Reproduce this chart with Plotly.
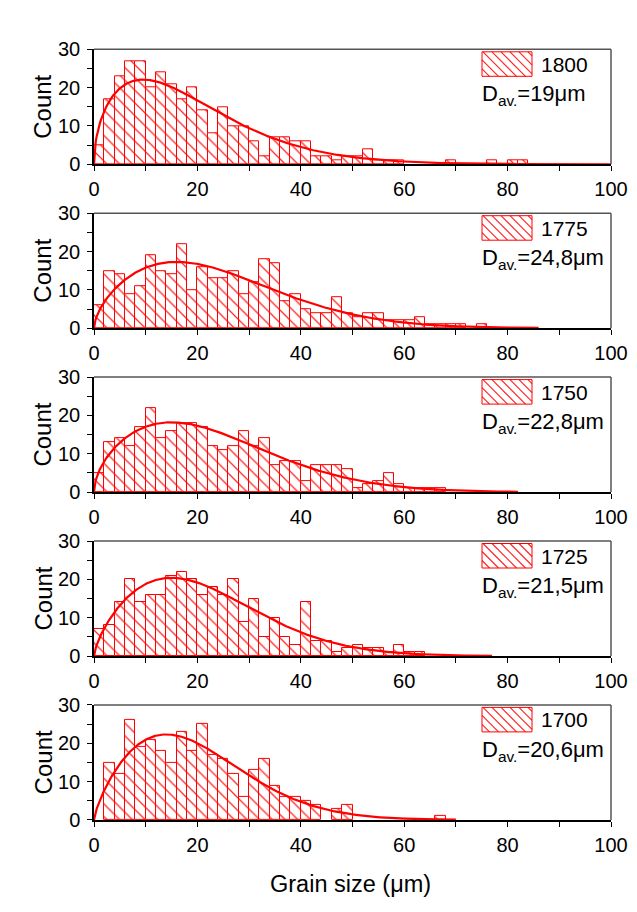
import numpy as np
import plotly.graph_objects as go

# ---------------- data ----------------
bin_width = 2.0
temps = ["1800", "1775", "1750", "1725", "1700"]
d_avg = ["19", "24,8", "22,8", "21,5", "20,6"]

counts_1800 = [5, 17, 23, 27, 27, 20, 24, 21, 17, 20, 14, 8, 15, 10, 10, 6, 2, 7, 7, 6, 6,
               2, 2, 1, 2, 2, 4, 1, 1, 1, 0, 0, 0, 0, 1, 0, 0, 0, 1, 0, 1, 1]
counts_1775 = [6, 15, 14, 9, 11, 19, 15, 14, 22, 10, 16, 13, 13, 15, 9, 12, 18, 17, 7, 9, 5,
               4, 4, 8, 4, 3, 4, 4, 2, 2, 2, 3, 1, 1, 1, 1, 0, 1, 0, 0, 0, 0]
counts_1750 = [5, 13, 14, 12, 17, 22, 14, 16, 18, 18, 17, 12, 11, 12, 16, 12, 14, 7, 8, 8, 3,
               7, 7, 7, 6, 1, 2, 3, 5, 2, 1, 1, 1, 1, 0, 0, 0, 0, 0, 0, 0, 0]
counts_1725 = [7, 8, 14, 20, 14, 16, 16, 21, 22, 20, 16, 18, 16, 20, 9, 15, 5, 10, 5, 3, 14,
               4, 4, 1, 2, 3, 2, 2, 1, 3, 1, 1, 0, 0, 0, 0, 0, 0, 0, 0, 0, 0]
counts_1700 = [0, 15, 12, 26, 19, 21, 18, 15, 23, 18, 25, 17, 16, 12, 6, 13, 16, 9, 6, 6, 5,
               4, 0, 3, 4, 0, 0, 0, 0, 0, 0, 0, 0, 1, 0, 0, 0, 0, 0, 0, 0, 0]
all_counts = [counts_1800, counts_1775, counts_1750, counts_1725, counts_1700]

# fitted distribution curves: mode, peak height, rise exponent, tail exponent, end of curve
fit_mode = [9.5, 16.0, 15.0, 15.0, 14.0]
fit_peak = [22.1, 17.3, 18.2, 20.4, 22.3]
fit_a = [0.5, 0.6, 0.55, 0.7, 0.75]
fit_b = [1.4, 1.8, 1.8, 1.8, 1.8]
fit_end = [100, 86, 82, 77, 70]

x_ticks = [0, 20, 40, 60, 80, 100]
y_ticks = [0, 10, 20, 30]

# ---------------- layout geometry (page pixels) ----------------
PAGE_W, PAGE_H = 637, 912
OFF = 8  # default body margin of the html page
W, H = PAGE_W - 2 * OFF, PAGE_H - 2 * OFF
X0, X1 = 94, 611
top0, step, ph = 49.3, 163.9, 115.0
RED = "#ff0000"
FONT = "Liberation Sans, Arial, sans-serif"

fig = go.Figure()
shapes = []
annotations = []


def px(x):
    return (x - OFF) / W


def py(y):
    return 1 - (y - OFF) / H


for i in range(5):
    n = i + 1
    xa = "x" if n == 1 else f"x{n}"
    ya = "y" if n == 1 else f"y{n}"
    counts = np.array(all_counts[i], dtype=float)
    centers = bin_width * (np.arange(len(counts)) + 0.5)
    shown = np.where(counts > 0, counts, np.nan)  # empty bins are not drawn
    fig.add_trace(go.Bar(
        x=centers, y=shown, width=bin_width, xaxis=xa, yaxis=ya,
        marker=dict(color=RED, line=dict(color=RED, width=1),
                    pattern=dict(shape="\\", fgcolor="rgba(255,0,0,0.85)", bgcolor="white",
                                 size=9, solidity=0.14, fillmode="replace")),
        showlegend=False, hoverinfo="skip"))
    xs = np.linspace(0.0, fit_end[i], 600)
    u = xs / fit_mode[i]
    a, b = fit_a[i], fit_b[i]
    ys = fit_peak[i] * np.power(u, a) * np.exp(-(a / b) * (np.power(u, b) - 1))
    fig.add_trace(go.Scatter(x=xs, y=ys, mode="lines", xaxis=xa, yaxis=ya,
                             line=dict(color=RED, width=2.2), showlegend=False,
                             hoverinfo="skip", cliponaxis=False))

    top = top0 + i * step
    bot = top + ph
    axis_common = dict(showline=True, linecolor="black", linewidth=1.5, ticks="outside",
                       ticklen=5, tickwidth=1.3, tickcolor="black", showgrid=False,
                       zeroline=False, automargin=False,
                       tickfont=dict(family=FONT, size=20, color="black"))
    fig.layout[f"xaxis{'' if n == 1 else n}"] = dict(
        domain=[px(X0), px(X1)], anchor=ya, range=[0, 100], tickvals=x_ticks,
        minor=dict(dtick=10, tick0=0, ticks="outside", ticklen=5, tickwidth=1.3,
                   tickcolor="black", showgrid=False),
        ticklabelstandoff=1, **axis_common)
    fig.layout[f"yaxis{'' if n == 1 else n}"] = dict(
        domain=[py(bot), py(top)], anchor=xa, range=[0, 30], tickvals=y_ticks,
        minor=dict(dtick=5, tick0=0, ticks="outside", ticklen=5, tickwidth=1.3,
                   tickcolor="black", showgrid=False),
        ticklabelstandoff=3, **axis_common)

    # top / right frame
    shapes.append(dict(type="line", xref="paper", yref="paper", x0=px(X0), x1=px(X1),
                       y0=py(top), y1=py(top), line=dict(color="#555", width=1.5)))
    shapes.append(dict(type="line", xref="paper", yref="paper", x0=px(X1), x1=px(X1),
                       y0=py(top), y1=py(bot), line=dict(color="#555", width=1.5)))

    # legend swatch
    sx0, sx1, sy0, sy1 = 482, 532, top + 2.5, top + 27
    shapes.append(dict(type="rect", xref="paper", yref="paper", x0=px(sx0), x1=px(sx1),
                       y0=py(sy1), y1=py(sy0), line=dict(color=RED, width=1),
                       fillcolor="white"))
    path = ""
    k = sy0 - sx1 + 4
    while k < sy1 - sx0:
        xa0 = max(sx0, sy0 - k)
        xa1 = min(sx1, sy1 - k)
        if xa1 > xa0:
            path += f"M{px(xa0)},{py(xa0 + k)} L{px(xa1)},{py(xa1 + k)} "
        k += 9
    shapes.append(dict(type="path", xref="paper", yref="paper", path=path,
                       line=dict(color="rgba(255,0,0,0.85)", width=1.2)))
    annotations.append(dict(xref="paper", yref="paper", x=px(539), y=py(top + 15),
                            xanchor="left", yanchor="middle", showarrow=False,
                            text=temps[i], font=dict(family=FONT, size=21, color="black")))
    annotations.append(dict(xref="paper", yref="paper", x=px(480), y=py(top + 46),
                            xanchor="left", yanchor="middle", showarrow=False,
                            text=f"D<sub>av.</sub>=" + d_avg[i] + "μm",
                            font=dict(family=FONT, size=22, color="black")))
    annotations.append(dict(xref="paper", yref="paper", x=px(43), y=py(top + ph / 2),
                            xanchor="center", yanchor="middle", showarrow=False,
                            textangle=-90, text="Count",
                            font=dict(family=FONT, size=24, color="black")))

annotations.append(dict(xref="paper", yref="paper", x=px(350), y=py(884),
                        xanchor="center", yanchor="middle", showarrow=False,
                        text="Grain size (μm)", font=dict(family=FONT, size=23.5, color="black")))

fig.update_layout(width=W, height=H, margin=dict(l=0, r=0, t=0, b=0),
                  paper_bgcolor="white", plot_bgcolor="white", bargap=0,
                  shapes=shapes, annotations=annotations, showlegend=False)

fig.write_html("out.html")
